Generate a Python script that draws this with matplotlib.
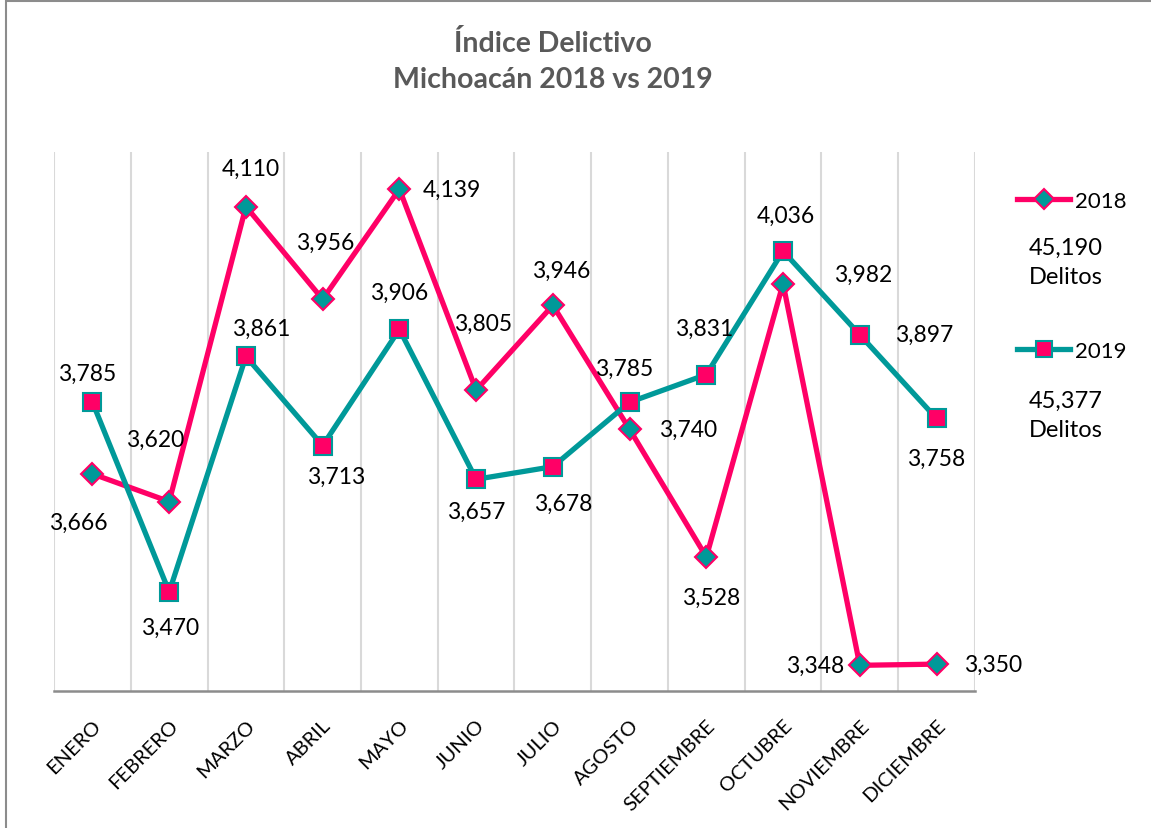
import matplotlib.pyplot as plt
from matplotlib.lines import Line2D
from matplotlib.patches import Rectangle

plt.rcParams['font.family'] = ['Lato', 'DejaVu Sans']

meses = ['ENERO', 'FEBRERO', 'MARZO', 'ABRIL', 'MAYO', 'JUNIO', 'JULIO',
         'AGOSTO', 'SEPTIEMBRE', 'OCTUBRE', 'NOVIEMBRE', 'DICIEMBRE']
delitos_2018 = [3666, 3620, 4110, 3956, 4139, 3805, 3946, 3740, 3528, 3982, 3348, 3350]
delitos_2019 = [3785, 3470, 3861, 3713, 3906, 3657, 3678, 3785, 3831, 4036, 3897, 3758]

# desplazamiento de cada etiqueta (pixeles)
off_2018 = [(-14, -48), (-14, 62), (5, 38), (3, 57), (52, 0), (7, 67), (8, 35),
            (58, 0), (5, -40), (80, 9), (-45, 0), (57, 0)]
off_2019 = [(-5, 29), (1, -35), (15, 28), (13, -31), (0, 37), (0, -32), (10, -37),
            (-5, 34), (-2, 46), (3, 36), (64, 0), (0, -40)]

rosa = '#FF0066'
verde = '#009999'

fig = plt.figure(figsize=(11.51, 8.29), dpi=100)
ax = fig.add_axes([0.047, 0.165, 0.80, 0.65])

x = range(len(meses))
ax.plot(x, delitos_2018, color=rosa, lw=3.8, marker='D', ms=11,
        mfc=verde, mec=rosa, mew=1.5, zorder=3, label='2018')
ax.plot(x, delitos_2019, color=verde, lw=3.8, marker='s', ms=13,
        mfc=rosa, mec=verde, mew=1.5, zorder=3, label='2019')

for i in x:
    ax.annotate(f'{delitos_2018[i]:,}', (i, delitos_2018[i]), xytext=off_2018[i],
                textcoords='offset pixels', ha='center', va='center', fontsize=16.5)
    ax.annotate(f'{delitos_2019[i]:,}', (i, delitos_2019[i]), xytext=off_2019[i],
                textcoords='offset pixels', ha='center', va='center', fontsize=16.5)

ax.set_xlim(-0.5, len(meses) - 0.5)
ax.set_ylim(3305, 4200)
ax.set_xticks(list(x))
ax.set_xticklabels(meses, rotation=45, ha='right', rotation_mode='anchor', fontsize=14.5)
ax.tick_params(axis='x', length=0, pad=18)
ax.set_yticks([])
ax.set_xticks([i + 0.5 for i in range(-1, len(meses))], minor=True)
ax.tick_params(axis='x', which='minor', length=0)
ax.grid(axis='x', which='minor', color='#D9D9D9', lw=1.5)
for s in ['top', 'right', 'left']:
    ax.spines[s].set_visible(False)
ax.spines['bottom'].set_color('#8C8C8C')
ax.spines['bottom'].set_linewidth(1.8)

fig.text(0.48, 0.947, 'Índice Delictivo', ha='center', va='center',
         fontsize=20.5, fontweight='bold', color='#595959')
fig.text(0.48, 0.903, 'Michoacán 2018 vs 2019', ha='center', va='center',
         fontsize=20.5, fontweight='bold', color='#595959')

handles = [Line2D([], [], color=rosa, lw=3.8, marker='D', ms=10, mfc=verde, mec=rosa, mew=1.5),
           Line2D([], [], color=verde, lw=3.8, marker='s', ms=12, mfc=rosa, mec=verde, mew=1.5)]
fig.legend(handles, ['2018', '2019'], loc='upper left', bbox_to_anchor=(0.874, 0.782),
           frameon=False, fontsize=16, handlelength=2.4, handletextpad=0.2,
           labelspacing=5.85, borderpad=0)

fig.text(0.926, 0.683, f'{sum(delitos_2018):,}\nDelitos', ha='center', va='center',
         fontsize=17, linespacing=1.45)
fig.text(0.926, 0.498, f'{sum(delitos_2019):,}\nDelitos', ha='center', va='center',
         fontsize=17, linespacing=1.45)

fig.add_artist(Rectangle((0.005, -0.1), 1.2, 1.097, transform=fig.transFigure,
                         fill=False, edgecolor='#8C8C8C', lw=1.5))

fig.savefig('out.png', dpi=100)
